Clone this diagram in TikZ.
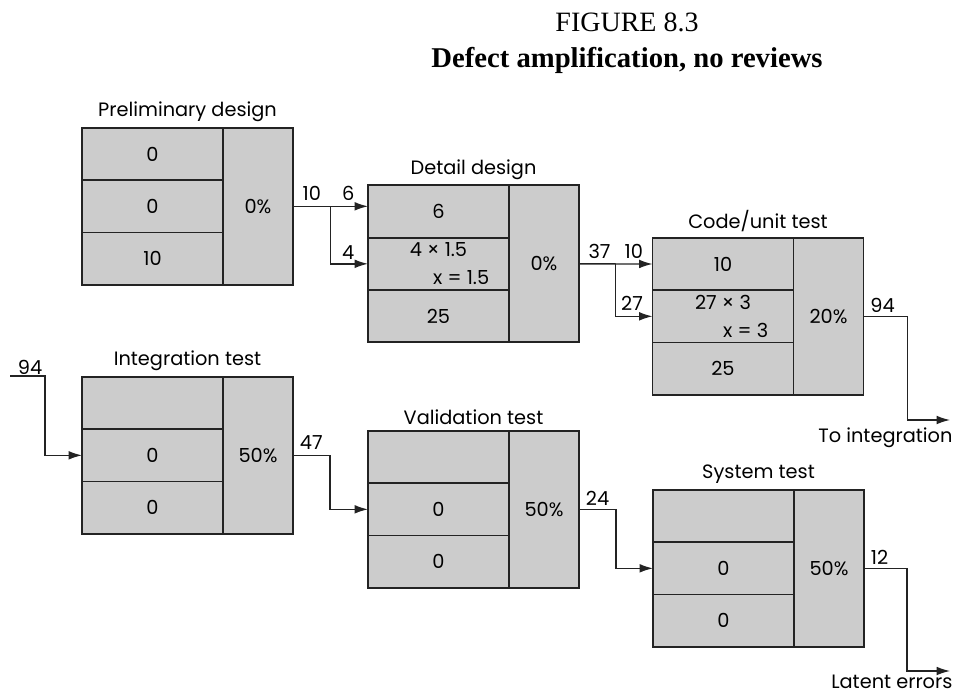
\documentclass[tikz,border=0pt]{standalone}
\usepackage{fontspec}
\setmainfont{Poppins}
\newfontfamily\headfont{Liberation Serif}
\usetikzlibrary{positioning,calc,arrows.meta}

\definecolor{cellgray}{RGB}{204,204,204}
\definecolor{inkgray}{RGB}{35,35,35}

\tikzset{
  cell/.style={draw=inkgray, fill=cellgray, line width=1.4pt, outer sep=0pt, inner sep=0pt,
    minimum width=105.75pt, minimum height=39.25pt, align=center,
    font=\fontsize{14.5}{21}\selectfont},
  pct/.style={draw=inkgray, fill=cellgray, line width=1.4pt, outer sep=0pt, inner sep=0pt,
    minimum width=52.5pt, minimum height=117.75pt, font=\fontsize{14.5}{17}\selectfont},
  stagename/.style={anchor=south, yshift=1pt, font=\fontsize{14.5}{17}\selectfont},
  num/.style={inner sep=1pt, font=\fontsize{14.5}{17}\selectfont},
  flow/.style={draw=inkgray, line width=1pt, -{Latex[length=10pt,width=6.5pt]}},
  headline/.style={anchor=base, font=\headfont\fontsize{21}{25}\selectfont},
  headbold/.style={anchor=base, font=\headfont\bfseries\fontsize{21.5}{25}\selectfont},
}

\begin{document}
\begin{tikzpicture}[x=0.75pt, y=-0.75pt, node distance=0pt]
\useasboundingbox (0,0) rectangle (959,695);

% heading
\node (fig) [headline] at (627,32) {FIGURE 8.3};
\node (title) [headbold] at (627,68) {Defect amplification, no reviews};

% preliminary design
\node (pd1) [cell] at (152.5,154) {0};
\node (pd2) [cell, below=of pd1] {0};
\node (pd3) [cell, below=of pd2] {10};
\node (pdp) [pct, right=of pd2] {0\%};
\node (pdt) [stagename] at ($(pd1.north west)!.5!(pdp.north east)$) {Preliminary design};

% detail design
\node (dd1) [cell] at (438.5,211.5) {6};
\node (dd2) [cell, below=of dd1] {4 × 1.5\\\hspace*{34pt}x = 1.5};
\node (dd3) [cell, below=of dd2] {25};
\node (ddp) [pct, right=of dd2] {0\%};
\node (ddt) [stagename] at ($(dd1.north west)!.5!(ddp.north east)$) {Detail design};

% code/unit test
\node (cu1) [cell] at (723,264) {10};
\node (cu2) [cell, below=of cu1] {27 × 3\\\hspace*{34pt}x = 3};
\node (cu3) [cell, below=of cu2] {25};
\node (cup) [pct, right=of cu2] {20\%};
\node (cut) [stagename] at ($(cu1.north west)!.5!(cup.north east)$) {Code/unit test};

% integration test
\node (it1) [cell] at (152.5,403) {};
\node (it2) [cell, below=of it1] {0};
\node (it3) [cell, below=of it2] {0};
\node (itp) [pct, right=of it2] {50\%};
\node (itt) [stagename] at ($(it1.north west)!.5!(itp.north east)$) {Integration test};

% validation test
\node (vt1) [cell] at (438.5,457) {};
\node (vt2) [cell, below=of vt1] {0};
\node (vt3) [cell, below=of vt2] {0};
\node (vtp) [pct, right=of vt2] {50\%};
\node (vtt) [stagename] at ($(vt1.north west)!.5!(vtp.north east)$) {Validation test};

% system test
\node (st1) [cell] at (723.5,516) {};
\node (st2) [cell, below=of st1] {0};
\node (st3) [cell, below=of st2] {0};
\node (stp) [pct, right=of st2] {50\%};
\node (stt) [stagename] at ($(st1.north west)!.5!(stp.north east)$) {System test};

% free ends
\coordinate (in94) at (10,376);
\coordinate (toint) at (950,420);
\coordinate (latent) at (950,671);

% connectors
\draw [flow] (pdp.east) -- (pdp.east -| dd1.west);
\draw [flow] ($(pdp.east)!.5!(pdp.east -| dd1.west)$) |- (dd2.west);
\draw [flow] (ddp.east) -- (cu1.west);
\draw [flow] ($(ddp.east)!.5!(cu1.west)$) |- (cu2.west);
\draw [flow] (cup.east) -- ++(44,0) |- (toint);
\draw [flow] (in94) -- ++(35,0) |- (it2.west);
\draw [flow] (itp.east) -- ++(37,0) |- (vt2.west);
\draw [flow] (vtp.east) -- ++(37,0) |- (st2.west);
\draw [flow] (stp.east) -- ++(43,0) |- (latent);

% counts on the connectors
\node (n10) [num, anchor=south west, xshift=6pt, yshift=3pt] at (pdp.east) {10};
\node (n6) [num, anchor=south east, xshift=-9pt, yshift=3pt] at (pdp.east -| dd1.west) {6};
\node (n4) [num, anchor=south east, xshift=-9pt, yshift=2pt] at (dd2.west) {4};
\node (n37) [num, anchor=south west, xshift=6pt, yshift=3pt] at (ddp.east) {37};
\node (n10b) [num, anchor=south east, xshift=-6pt, yshift=3pt] at (cu1.west) {10};
\node (n27) [num, anchor=south east, xshift=-6pt, yshift=3pt] at (cu2.west) {27};
\node (n94) [num, anchor=south west, xshift=4pt, yshift=2pt] at (cup.east) {94};
\node (toi) [num, anchor=north east, yshift=-5pt, xshift=3pt] at (toint) {To integration};
\node (n94b) [num, anchor=south, xshift=15pt] at (in94) {94};
\node (n47) [num, anchor=south west, xshift=4pt, yshift=3pt] at (itp.east) {47};
\node (n24) [num, anchor=south west, xshift=4pt, yshift=2pt] at (vtp.east) {24};
\node (n12) [num, anchor=south west, xshift=4pt, yshift=2pt] at (stp.east) {12};
\node (lat) [num, anchor=north east, yshift=-2pt, xshift=3pt] at (latent) {Latent errors};
\end{tikzpicture}
\end{document}
